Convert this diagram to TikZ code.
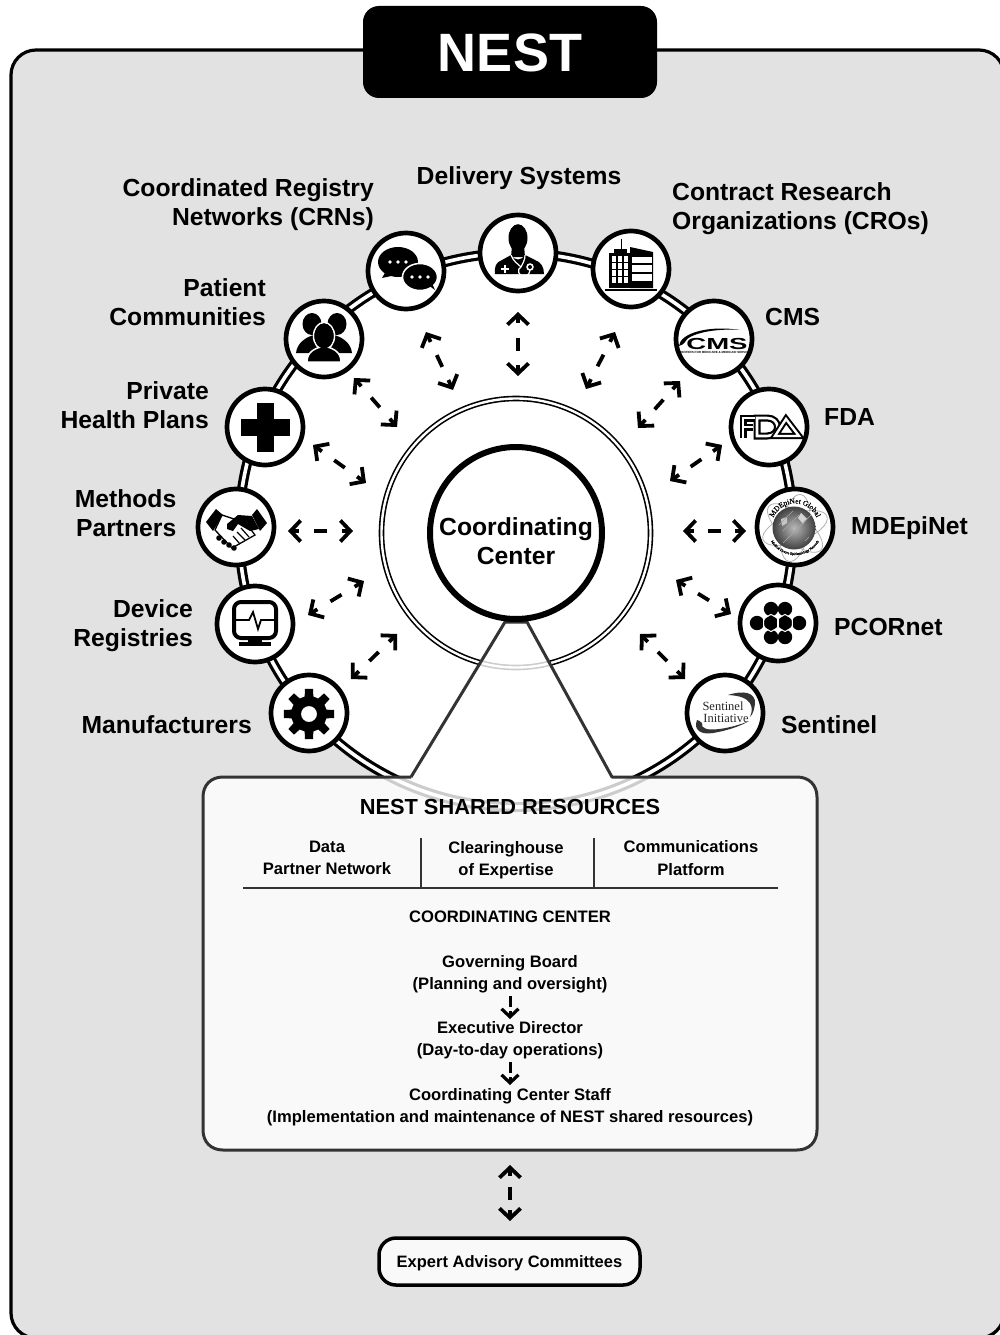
\documentclass[tikz,border=0pt]{standalone}
\usepackage{fontspec}
\setmainfont{Liberation Sans}
\newfontfamily\serifb[FakeBold=0.2]{Liberation Serif}
\newfontfamily\serifn{Liberation Serif}
\usetikzlibrary{arrows.meta,decorations.markings,decorations.text}
\definecolor{bggray}{HTML}{E2E2E2}
\definecolor{linegray}{HTML}{333333}
\tikzset{
  iconcirc/.style={circle,draw=black,fill=white,line width=4.7pt,minimum size=76pt,inner sep=0pt},
  biglabel/.style={inner sep=0pt,font=\fontsize{24.7}{28.8}\selectfont\bfseries},
  boxlabel/.style={inner sep=0pt,align=center,font=\fontsize{16.6}{22.2}\selectfont\bfseries},
  dblarrow/.style={line width=3.8pt,dash pattern=on 0pt off 2000pt,
    {Straight Barb[length=10pt,width=21pt,line width=3.8pt]}-{Straight Barb[length=10pt,width=21pt,line width=3.8pt]},
    postaction={decorate,decoration={markings,
      mark=at position 0 with {\draw[solid,line width=3.8pt,-] (2pt,0pt)--(11pt,0pt);},
      mark=at position .5 with {\draw[solid,line width=3.8pt,-] (-6.5pt,0pt)--(6.5pt,0pt);},
      mark=at position .9999 with {\draw[solid,line width=3.8pt,-] (-11pt,0pt)--(-2pt,0pt);}}}},
  onearrow/.style={line width=3pt,dash pattern=on 11pt off 200pt,-{Straight Barb[length=8pt,width=17pt,line width=3.2pt]},
    postaction={decorate,decoration={markings,
      mark=at position .9999 with {\draw[solid,line width=3pt,-] (-8pt,0pt)--(-2pt,0pt);}}}},
  thinline/.style={draw=linegray,line width=1.6pt},
}
\newcommand{\darrow}[5]{\coordinate (#1s) at (#2,#3); \coordinate (#1e) at (#4,#5); \draw[dblarrow] (#1s) -- (#1e);}
\begin{document}
\begin{tikzpicture}[x=1pt,y=-1pt]
\useasboundingbox (0,0) rectangle (1000,1335);
\fill[white] (0,0) rectangle (1000,1335);
% background panel
\begin{scope}
\clip (0,0) rectangle (1000,1335);
\draw[line width=3.2pt,fill=bggray,rounded corners=25pt] (11,50) rectangle (1004,1338);
\end{scope}
% title
\node[fill=black,rounded corners=16pt,minimum width=294pt,minimum height=92pt,inner sep=0pt] (title) at (510,52) {};
\node[inner sep=0pt,text=white,font=\fontsize{54}{60}\selectfont\bfseries] (titlet) at (510,53) {NEST};
% big circle
\coordinate (hub) at (516,530);
\coordinate (mid) at (516,533);
\fill[white] (hub) circle[radius=277];
\draw[black,line width=10pt] (hub) circle[radius=277];
\draw[white,line width=3.6pt] (hub) circle[radius=277];
\draw[black,line width=5.6pt] (mid) circle[radius=134.5];
\draw[white,line width=2.4pt] (mid) circle[radius=134.5];
% shared resources box + funnel
\path[fill=white,fill opacity=.8] (411,777) -- (505,622) -- (527,622) -- (612,777) -- (797,777)
  .. controls (809,777) and (817,785) .. (817,797) -- (817,1130)
  .. controls (817,1142) and (809,1150) .. (797,1150) -- (223,1150)
  .. controls (211,1150) and (203,1142) .. (203,1130) -- (203,797)
  .. controls (203,785) and (211,777) .. (223,777) -- cycle;
\draw[draw=linegray,line width=3pt,line join=round] (411,777) -- (505,622) -- (527,622) -- (612,777) -- (797,777)
  .. controls (809,777) and (817,785) .. (817,797) -- (817,1130)
  .. controls (817,1142) and (809,1150) .. (797,1150) -- (223,1150)
  .. controls (211,1150) and (203,1142) .. (203,1130) -- (203,797)
  .. controls (203,785) and (211,777) .. (223,777) -- (411,777);
% coordinating centre
\node[circle,draw=black,fill=white,line width=6pt,minimum size=172pt,inner sep=0pt] (cc) at (516,533) {};
\node[inner sep=0pt,align=center,font=\fontsize{24.7}{29}\selectfont\bfseries] (cct) at (516,541.5) {Coordinating\\Center};
% arrows
\darrow{a1}{518}{312}{518}{376}
\darrow{a2}{426}{332}{453}{390}
\darrow{a3}{354}{378}{397}{427}
\darrow{a4}{313}{445}{366}{483}
\darrow{a5}{288}{531}{353}{531}
\darrow{a6}{308}{615}{364}{581}
\darrow{a7}{351}{679}{397}{634}
\darrow{a8}{615}{332}{586}{389}
\darrow{a9}{680}{381}{638}{428}
\darrow{a10}{722}{445}{670}{481}
\darrow{a11}{683}{531}{746}{531}
\darrow{a12}{676}{580}{731}{614}
\darrow{a13}{640}{634}{685}{679}
% icon circles
\node[iconcirc] (deliv) at (518,253) {};
\node[iconcirc] (crn) at (406,271) {};
\node[iconcirc] (cro) at (631,269) {};
\node[iconcirc] (pat) at (324,339) {};
\node[iconcirc] (cms) at (714,339) {};
\node[iconcirc] (priv) at (265,427) {};
\node[iconcirc] (fda) at (769,427) {};
\node[iconcirc] (meth) at (236,527) {};
\node[iconcirc] (mde) at (795,527) {};
\node[iconcirc] (dev) at (255,624) {};
\node[iconcirc] (pcor) at (778,623) {};
\node[iconcirc] (manu) at (309,713) {};
\node[iconcirc] (sent) at (725,713) {};
% doctor
\begin{scope}[shift={(deliv.center)}]
  \fill (0,-15) ellipse[x radius=9.5,y radius=13.8];
  \fill (-6,-8) -- (6,-8) -- (7,4) -- (-7,4) -- cycle;
  \fill (-23,21) .. controls (-24,14) and (-22,9) .. (-16,7) -- (-7,2) .. controls (-3,8) and (3,8) .. (7,2) -- (17,7)
    .. controls (23,9) and (26,14) .. (26,21) -- cycle;
  \draw[white,line width=1.2pt] (-7,2) .. controls (-5,8) and (0,11) .. (3,14);
  \draw[white,line width=1.2pt] (7,2) .. controls (7,7) and (5,10) .. (3,14);
  \draw[white,line width=1.2pt] (3,14) .. controls (-2,16) and (1,24) .. (6,23) .. controls (11,22) and (12,20) .. (12,17);
  \fill[white] (12,14) circle[radius=3.8];
  \fill[black] (12,14) circle[radius=2];
  \fill[white] (-17,15) rectangle (-9,17);
  \fill[white] (-14,12) rectangle (-12,20);
\end{scope}
% chat bubbles
\begin{scope}[shift={(crn.center)}]
  \fill (-8,-9) ellipse[x radius=20,y radius=15];
  \fill (-20,0) -- (-24,7) -- (-10,4) -- cycle;
  \foreach \x in {-16,-8,0} \fill[white] (\x,-9) circle[radius=1.8];
  \draw[white,line width=1.5pt,fill=black] (14,6) ellipse[x radius=17.5,y radius=13.5];
  \fill (22,14) -- (29,19) -- (24,8) -- cycle;
  \foreach \x in {6,14,22} \fill[white] (\x,6) circle[radius=1.8];
\end{scope}
% building
\begin{scope}[shift={(cro.center)}]
  \draw[line width=1pt] (-10,-30) -- (-10,-16);
  \fill (-22,-16) rectangle (-1,19);
  \fill (-17,-20) rectangle (-4,-15);
  \fill (-1,-22) -- (22,-17) -- (22,19) -- (-1,19) -- cycle;
  \foreach \y in {-13,-6,1,8} \foreach \x in {-19,-13,-7} \fill[white] (\x,\y) rectangle +(4,5.5);
  \fill[white] (1,-12) rectangle (21,-6);
  \fill[white] (1,-4) rectangle (21,3);
  \fill[white] (1,5) rectangle (21,12);
  \draw[line width=1.4pt] (-26,21) -- (26,21);
\end{scope}
% people
\begin{scope}[shift={(pat.center)}]
  \fill (-12,-15) ellipse[x radius=9.5,y radius=11];
  \fill (13,-15) ellipse[x radius=9.5,y radius=11];
  \fill (-28,14) .. controls (-27,4) and (-18,-2) .. (-10,-4) -- (-6,14) -- cycle;
  \fill (28,14) .. controls (27,4) and (18,-2) .. (10,-4) -- (6,14) -- cycle;
  \draw[white,line width=1.5pt,fill=black] (0,-3) ellipse[x radius=10.5,y radius=13.5];
  \draw[white,line width=1.5pt,fill=black] (-17,23) .. controls (-17,12) and (-8,9) .. (0,7) .. controls (8,9) and (17,12) .. (17,23) -- cycle;
  \fill (0,-3) ellipse[x radius=9.5,y radius=12.5];
\end{scope}
% CMS logo
\begin{scope}[shift={(cms.center)}]
  \fill (-35,7) .. controls (-34,-6) and (-5,-14) .. (26,-9) .. controls (0,-11) and (-26,-5) .. (-29,3)
    .. controls (-30,5) and (-32,6) .. (-35,7) -- cycle;
  \node[inner sep=0pt,font=\fontsize{16}{16}\selectfont\bfseries] (cmst) at (3,4.5) {\scalebox{1.72}[1]{CMS}};
  \node[inner sep=0pt,font=\fontsize{3}{3}\selectfont\bfseries] (cmss) at (2,13) {CENTERS FOR MEDICARE \& MEDICAID SERVICES};
\end{scope}
% cross
\begin{scope}[shift={(priv.center)}]
  \fill (-8.5,-24.5) rectangle (8.5,24.5);
  \fill (-24.5,-8.5) rectangle (24.5,8.5);
\end{scope}
% FDA logo
\begin{scope}[shift={(fda.center)}]
  \foreach \c/\w in {black/7,white/2.6} {
    \draw[\c,line width=\w pt,miter limit=6] (-14,-9) -- (-26,-9) -- (-26,11);
    \draw[\c,line width=\w pt] (-26,0) -- (-16,0);
    \draw[\c,line width=\w pt] (-12,-9) -- (-2,-9) .. controls (12,-9) and (12,9) .. (-2,9) -- (-12,9) -- cycle;
  }
  \foreach \c/\w in {black/6.4,white/2.4} {
    \draw[\c,line width=\w pt,line join=miter] (6,9) -- (17,-8) -- (30,9) -- cycle;
  }
\end{scope}
% handshake
\begin{scope}[shift={(meth.center)}]
  \fill (-30,-5) -- (-20,-18) -- (-13,-12) -- (-23,4) -- cycle;
  \fill (16,-12) -- (21,-18) -- (31,-4) -- (24,4) -- cycle;
  \draw[line width=1.3pt,fill=white] (-14,-12) -- (-21,3) -- (-4,21) -- (19,8) -- (10,-4) -- cycle;
  \draw[line width=1.2pt] (1,5) -- (9,13);
  \draw[line width=1.2pt] (-3,9) -- (4,17);
  \draw[line width=1.2pt] (5,1) -- (13,10);
  \fill (-9,-3) -- (2,-12) -- (16,-11) -- (23,2) -- (14,4) -- (2,-3) -- (-3,4) -- (-9,2) -- cycle;
  \foreach \x/\y in {-17/11,-12/15,-7/18,-2/21} \fill (\x,\y) circle[radius=2.8];
\end{scope}
% MDEpiNet logo
\begin{scope}[shift={(mde.center)}]
  \clip (0,0) circle[radius=36];
  \foreach \a in {20,80,140} \draw[gray!60,line width=.8pt] (0,1) ellipse[x radius=34,y radius=14,rotate=\a];
  \shade[inner color=gray!55,outer color=black!75] (-1,1) circle[radius=21.5];
  \fill[gray!35] (6,-14) -- (12,-8) -- (8,-3) -- (3,-9) -- cycle;
  \fill[gray!45] (-14,-8) -- (-8,-10) -- (-8,-4) -- (-13,-1) -- cycle;
  \foreach \a/\b in {-16/-2,-8/12,-12/16,4/-12,10/14} \draw[gray!70,line width=.5pt] (\a,\b) -- (\b,\a);
  \path[decorate,decoration={text along path,text align=center,
    text={|\fontsize{7.4}{7}\selectfont\serifb|MDEpiNet Global}}] (188:23.5) arc[start angle=188,end angle=352,radius=23.5];
  \path[decorate,decoration={text along path,text align=center,
    text={|\fontsize{3.6}{4}\selectfont\serifb|Medical Device Epidemiology Network}}] (150:28) arc[start angle=150,end angle=30,radius=28];
\end{scope}
% monitor
\begin{scope}[shift={(dev.center)}]
  \draw[line width=4pt,rounded corners=7pt] (-21,-22) rectangle (21,14);
  \draw[line width=1.8pt,line join=miter] (-21,-4) -- (-6,-4) -- (-2,-12) -- (3,5) -- (6,-4) -- (21,-4);
  \fill (-7,14) rectangle (7,19);
  \fill (-16,18) rectangle (16,22);
\end{scope}
% PCORnet
\begin{scope}[shift={(pcor.center)}]
  \foreach \x/\y in {-7/-14,7/-14,-21/0,-7/0,7/0,21/0,-7/14,7/14} \fill (\x,\y) circle[radius=7.2];
  \foreach \x in {-7,7} \draw[white,line width=1pt] (\x,0) +(30:8.6) -- +(90:8.6) -- +(150:8.6) -- +(210:8.6) -- +(270:8.6) -- +(330:8.6) -- cycle;
\end{scope}
% gear
\begin{scope}[shift={(manu.center)},yshift=-1pt]
  \fill[even odd rule] (-9:25.5)
    \foreach \a in {0,45,...,315} { -- (\a-9:25.5) -- (\a+9:25.5) -- (\a+14:18) -- (\a+31:18) } -- cycle
    (0,0) circle[radius=8];
\end{scope}
% Sentinel logo
\begin{scope}[shift={(sent.center)}]
  \fill[black!80] (3,-18) .. controls (18,-23) and (31,-21) .. (30,-9) .. controls (29,-3) and (28,1) .. (25,4)
    .. controls (29,-5) and (28,-17) .. (3,-18) -- cycle;
  \fill[black!80] (-28,7) .. controls (-32,17) and (-24,22) .. (-12,20) .. controls (0,18) and (14,14) .. (24,8)
    .. controls (8,15) and (-26,22) .. (-23,10) .. controls (-25,8) and (-27,7) .. (-28,7) -- cycle;
  \node[inner sep=0pt,text=black!85,font=\fontsize{12.5}{13}\selectfont\serifn] (sent1) at (-2,-7) {Sentinel};
  \node[inner sep=0pt,text=black!85,font=\fontsize{12.5}{13}\selectfont\serifn] (sent2) at (1,5) {Initiative};
\end{scope}
% outer labels
\node[biglabel,anchor=east,align=right] (lcrn) at (374,205) {Coordinated Registry\\Networks (CRNs)};
\node[biglabel] (ldel) at (519,178) {Delivery Systems};
\node[biglabel,anchor=west,align=left] (lcro) at (672,209) {Contract Research\\Organizations (CROs)};
\node[biglabel,anchor=east,align=right] (lpat) at (266,302) {Patient\\Communities};
\node[biglabel,anchor=west] (lcms) at (765,317) {CMS};
\node[biglabel,anchor=east,align=right] (lpri) at (209,405) {Private\\Health Plans};
\node[biglabel,anchor=west] (lfda) at (824,417) {FDA};
\node[biglabel,anchor=east,align=right] (lmet) at (176.5,513) {Methods\\Partners};
\node[biglabel,anchor=west] (lmde) at (851,528) {MDEpiNet};
\node[biglabel,anchor=east,align=right] (ldev) at (193,626) {Device\\Registries};
\node[biglabel,anchor=west] (lpco) at (834,627) {PCORnet};
\node[biglabel,anchor=east] (lman) at (252,725) {Manufacturers};
\node[biglabel,anchor=west] (lsen) at (781,725) {Sentinel};
% box content
\node[boxlabel,font=\fontsize{21.8}{24}\selectfont\bfseries] (nsr) at (510,807) {NEST SHARED RESOURCES};
\node[boxlabel] (res1) at (327,858) {Data\\Partner Network};
\node[boxlabel] (res2) at (506,860) {Clearinghouse\\of Expertise};
\node[boxlabel] (res3) at (691,858) {Communications\\Platform};
\coordinate (h1) at (243,888); \coordinate (h2) at (778,888);
\coordinate (v1) at (421,838); \coordinate (v1b) at (421,888);
\coordinate (v2) at (594,838); \coordinate (v2b) at (594,888);
\draw[thinline] (h1) -- (h2);
\draw[thinline] (v1) -- (v1b);
\draw[thinline] (v2) -- (v2b);
\node[boxlabel] (cch) at (510,917) {COORDINATING CENTER};
\node[boxlabel] (gov) at (510,974) {Governing Board\\(Planning and oversight)};
\node[boxlabel] (exec) at (510,1040.5) {Executive Director\\(Day-to-day operations)};
\node[boxlabel] (staff) at (510,1107) {Coordinating Center Staff\\(Implementation and maintenance of NEST shared resources)};
\coordinate (s1) at (510,996); \coordinate (s1e) at (510,1019);
\coordinate (s2) at (510,1062); \coordinate (s2e) at (510,1085);
\draw[onearrow] (s1) -- (s1e);
\draw[onearrow] (s2) -- (s2e);
\darrow{b1}{510}{1165}{510}{1221}
\node[draw=black,fill=white,fill opacity=.8,text opacity=1,line width=3.5pt,rounded corners=17pt,minimum width=261pt,minimum height=47pt,
  inner sep=0pt,text depth=0pt,font=\fontsize{16.5}{20}\selectfont\bfseries] (exp) at (509.5,1261.5) {Expert Advisory Committees};
\end{tikzpicture}
\end{document}
